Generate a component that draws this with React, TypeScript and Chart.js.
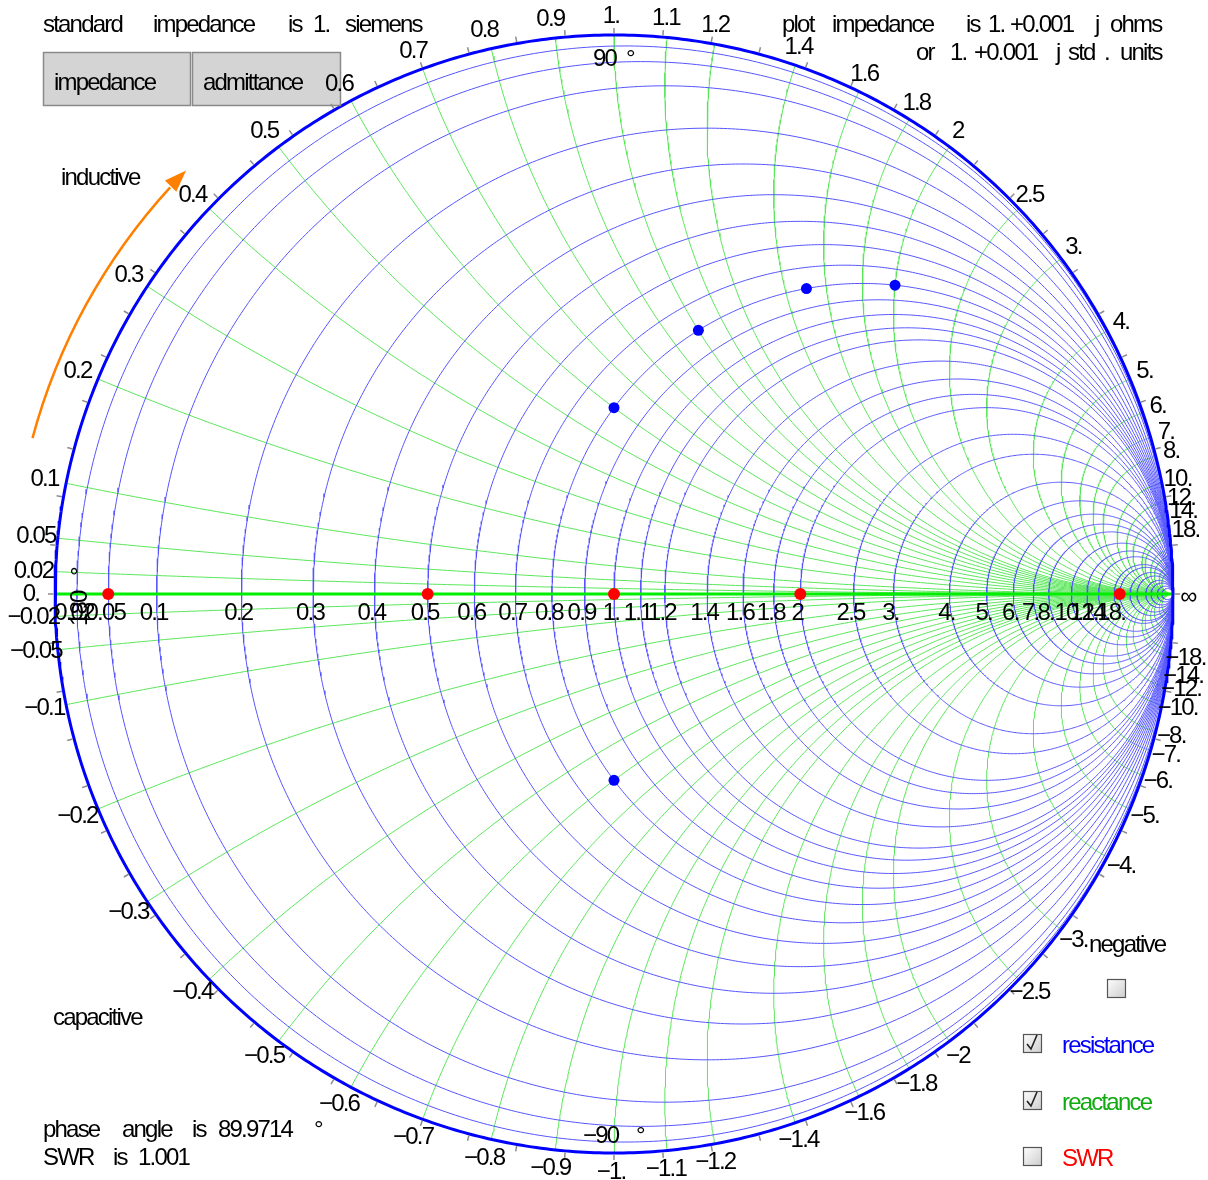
import React, { useEffect, useRef } from 'react';
import { Chart, registerables } from 'chart.js';

Chart.register(...registerables);

// ---------- data ----------
const resistanceValues = [0.02, 0.05, 0.1, 0.2, 0.3, 0.4, 0.5, 0.6, 0.7, 0.8, 0.9, 1, 1.1, 1.2, 1.4, 1.6, 1.8, 2, 2.5, 3, 4, 5, 6, 7, 8, 10, 12, 14, 18];
const extraResistanceValues = [20, 25, 30, 40, 50, 70, 100];
const reactanceValues = [0.02, 0.05, 0.1, 0.2, 0.3, 0.4, 0.5, 0.6, 0.7, 0.8, 0.9, 1, 1.1, 1.2, 1.4, 1.6, 1.8, 2, 2.5, 3, 4, 5, 6, 7, 8, 10, 12, 14, 18];
const extraReactanceValues = [20, 25, 30, 40, 50];
const valueLabels = ['0.02', '0.05', '0.1', '0.2', '0.3', '0.4', '0.5', '0.6', '0.7', '0.8', '0.9', '1.', '1.1', '1.2', '1.4', '1.6', '1.8', '2', '2.5', '3.', '4.', '5.', '6.', '7.', '8.', '10.', '12.', '14.', '18.'];
const redPointR = [0.05, 0.5, 1, 2, 20];
const redPointX = [0, 0, 0, 0, 0];
const bluePointR = [0.8, 0.8, 0.8, 0.8, 0.8];
const bluePointX = [0.6, 1, 1.5, 2, -0.6];
const angleTickStepDeg = 5;

const BLUE_THIN = 'rgb(85,85,255)';
const GREEN_THIN = 'rgb(90,230,90)';

function gamma(r: number, x: number) {
  const d = (r + 1) * (r + 1) + x * x;
  return { x: (r * r + x * x - 1) / d, y: (2 * x) / d };
}

function resistanceCircle(r: number) {
  const c = r / (1 + r);
  const R = 1 / (1 + r);
  const pts: { x: number; y: number }[] = [];
  const n = 720;
  for (let i = 0; i <= n; i++) {
    const t = (2 * Math.PI * i) / n;
    pts.push({ x: c + R * Math.cos(t), y: R * Math.sin(t) });
  }
  return pts;
}

function reactanceArc(x: number) {
  const ax = Math.abs(x);
  const s = Math.sign(x);
  const rho = 1 / ax;
  let a0 = Math.atan2((ax * ax - 1) / ax, -2);
  if (a0 > 0) a0 -= 2 * Math.PI;
  const a1 = -Math.PI / 2;
  const pts: { x: number; y: number }[] = [];
  const n = 240;
  for (let i = 0; i <= n; i++) {
    const a = a0 + ((a1 - a0) * i) / n;
    pts.push({ x: 1 + rho * Math.cos(a), y: s * (1 / ax + rho * Math.sin(a)) });
  }
  return pts;
}

const FONT = '24px "Liberation Sans", Arial, sans-serif';

const textPlugin = {
  id: 'smithText',
  afterDraw(chart: any) {
    const ctx: CanvasRenderingContext2D = chart.ctx;
    const sx = chart.scales.x;
    const sy = chart.scales.y;
    const cx = sx.getPixelForValue(0);
    const cy = sy.getPixelForValue(0);
    const R = sx.getPixelForValue(1) - cx;
    ctx.save();
    (ctx as any).letterSpacing = '-1.8px';
    ctx.font = FONT;

    // buttons (drawn first so the circle labels sit on top)
    const button = (x: number, y: number, w: number, h: number, label: string) => {
      ctx.fillStyle = '#d4d4d4';
      ctx.fillRect(x, y, w, h);
      ctx.strokeStyle = '#8a8a8a';
      ctx.lineWidth = 1.5;
      ctx.strokeRect(x + 0.5, y + 0.5, w - 1, h - 1);
      ctx.fillStyle = '#000';
      ctx.textAlign = 'left';
      ctx.textBaseline = 'alphabetic';
      ctx.fillText(label, x + 11, y + 38);
    };
    button(43, 52, 148, 54, 'impedance');
    button(192, 52, 149, 54, 'admittance');

    // angle ticks
    ctx.strokeStyle = '#8c8c8c';
    ctx.lineWidth = 1.5;
    for (let a = 0; a < 360; a += angleTickStepDeg) {
      const t = (a * Math.PI) / 180;
      ctx.beginPath();
      ctx.moveTo(cx + (R + 1.5) * Math.cos(t), cy - (R + 1.5) * Math.sin(t));
      ctx.lineTo(cx + (R + 7) * Math.cos(t), cy - (R + 7) * Math.sin(t));
      ctx.stroke();
    }

    ctx.fillStyle = '#000';
    ctx.textAlign = 'center';
    ctx.textBaseline = 'middle';
    const LR = R + 19;
    // perimeter labels
    reactanceValues.forEach((x, i) => {
      for (const sgn of [1, -1]) {
        const g = gamma(0, sgn * x);
        const th = Math.atan2(g.y, g.x);
        const tx = cx + LR * Math.cos(th) - 3;
        const ty = cy - LR * Math.sin(th);
        ctx.fillText((sgn < 0 ? '\u2212' : '') + valueLabels[i], tx, ty);
      }
    });
    ctx.fillText('0.', cx - LR - 5, cy);
    ctx.fillText('\u221E', cx + R + 15, cy + 3);

    // horizontal axis labels
    resistanceValues.forEach((r, i) => {
      const g = gamma(r, 0);
      ctx.fillText(valueLabels[i], sx.getPixelForValue(g.x) - 3, cy + 19);
    });

    // rotated 180 degree label
    ctx.save();
    ctx.translate(87, 626);
    ctx.rotate(-Math.PI / 2);
    ctx.textAlign = 'left';
    ctx.textBaseline = 'alphabetic';
    ctx.fillText('180', 0, 0);
    ctx.fillText('\u00B0', 50, 0);
    ctx.restore();

    ctx.textAlign = 'left';
    ctx.textBaseline = 'alphabetic';
    const words = (list: [string, number][], y: number, color = '#000') => {
      ctx.fillStyle = color;
      list.forEach(([w, x]) => ctx.fillText(w, x, y));
    };
    words([['standard', 43], ['impedance', 153], ['is', 288], ['1.', 313], ['siemens', 345]], 32);
    words([['plot', 782], ['impedance', 832], ['is', 966], ['1.', 988], ['+0.001', 1010], ['j', 1095], ['ohms', 1110]], 32);
    words([['or', 916], ['1.', 950], ['+0.001', 974], ['j', 1056], ['std', 1068], ['.', 1104], ['units', 1120]], 60);
    words([['90', 593], ['\u00B0', 626]], 66);
    words([['\u221290', 583], ['\u00B0', 636]], 1143);
    words([['inductive', 61]], 185);
    words([['capacitive', 53]], 1025);
    words([['phase', 43], ['angle', 122], ['is', 192], ['89.9714', 218], ['\u00B0', 314]], 1137);
    words([['SWR', 43], ['is', 113], ['1.001', 138]], 1165);
    words([['negative', 1089]], 952);

    // checkboxes
    const checkbox = (x: number, y: number, checked: boolean) => {
      const g = ctx.createLinearGradient(x, y, x + 18, y + 18);
      g.addColorStop(0, '#ffffff');
      g.addColorStop(1, '#cfcfcf');
      ctx.fillStyle = g;
      ctx.fillRect(x, y, 18, 18);
      ctx.strokeStyle = '#555';
      ctx.lineWidth = 1.2;
      ctx.strokeRect(x + 0.5, y + 0.5, 18, 18);
      if (checked) {
        ctx.strokeStyle = '#222';
        ctx.lineWidth = 1.6;
        ctx.beginPath();
        ctx.moveTo(x + 4, y + 10);
        ctx.lineTo(x + 8, y + 15);
        ctx.lineTo(x + 14, y + 1);
        ctx.stroke();
      }
    };
    checkbox(1107, 979, false);
    checkbox(1023, 1034, true);
    checkbox(1023, 1091, true);
    checkbox(1023, 1147, false);
    words([['resistance', 1062]], 1053, '#0000ff');
    words([['reactance', 1062]], 1110, '#11aa11');
    words([['SWR', 1062]], 1166, '#ff0000');

    // orange arrow (inductive direction)
    const AR = 602;
    const a0 = (-165 * Math.PI) / 180;
    const aTip = (-135.3 * Math.PI) / 180;
    const aEnd = (-137.5 * Math.PI) / 180;
    ctx.strokeStyle = '#ff8000';
    ctx.fillStyle = '#ff8000';
    ctx.lineWidth = 2.5;
    ctx.beginPath();
    ctx.arc(cx, cy, AR, a0, aEnd, false);
    ctx.stroke();
    const tipX = cx + AR * Math.cos(aTip);
    const tipY = cy + AR * Math.sin(aTip);
    const dx = -Math.sin(aTip);
    const dy = Math.cos(aTip);
    const bx = tipX - 22 * dx;
    const by = tipY - 22 * dy;
    ctx.beginPath();
    ctx.moveTo(tipX, tipY);
    ctx.lineTo(bx - 8 * dy, by + 8 * dx);
    ctx.lineTo(bx + 8 * dy, by - 8 * dx);
    ctx.closePath();
    ctx.fill();

    ctx.restore();
  },
};

export default function App() {
  const ref = useRef<HTMLCanvasElement | null>(null);
  useEffect(() => {
    if (!ref.current) return;
    const datasets: any[] = [];
    [...resistanceValues, ...extraResistanceValues].forEach((r) => {
      datasets.push({
        data: resistanceCircle(r),
        showLine: true,
        borderColor: BLUE_THIN,
        borderWidth: 1,
        pointRadius: 0,
        clip: false,
        order: 4,
      });
    });
    [...reactanceValues, ...extraReactanceValues].forEach((x) => {
      for (const s of [1, -1]) {
        datasets.push({
          data: reactanceArc(s * x),
          showLine: true,
          borderColor: GREEN_THIN,
          borderWidth: 1,
          pointRadius: 0,
          clip: false,
          order: 5,
        });
      }
    });
    datasets.push({
      data: [gamma(0, 0), gamma(1e9, 0)],
      showLine: true,
      borderColor: '#00ee00',
      borderWidth: 3,
      pointRadius: 0,
      clip: false,
      order: 3,
    });
    datasets.push({
      data: resistanceCircle(0),
      showLine: true,
      borderColor: '#0000ff',
      borderWidth: 3,
      pointRadius: 0,
      clip: false,
      order: 2,
    });
    datasets.push({
      data: redPointR.map((r, i) => gamma(r, redPointX[i])),
      showLine: false,
      pointRadius: 6,
      pointBackgroundColor: '#ff0000',
      pointBorderWidth: 0,
      borderColor: '#ff0000',
      clip: false,
      order: 1,
    });
    datasets.push({
      data: bluePointR.map((r, i) => gamma(r, bluePointX[i])),
      showLine: false,
      pointRadius: 5.5,
      pointBackgroundColor: '#0000ff',
      pointBorderWidth: 0,
      borderColor: '#0000ff',
      clip: false,
      order: 0,
    });

    const chart = new Chart(ref.current, {
      type: 'scatter',
      data: { datasets },
      options: {
        animation: false,
        responsive: false,
        devicePixelRatio: 1,
        layout: { padding: { left: 55, right: 35, top: 35, bottom: 27 } },
        scales: {
          x: { type: 'linear', min: -1, max: 1, display: false },
          y: { type: 'linear', min: -1, max: 1, display: false },
        },
        plugins: { legend: { display: false }, tooltip: { enabled: false } },
        elements: { line: { tension: 0 } },
      },
      plugins: [textPlugin],
    } as any);
    return () => chart.destroy();
  }, []);
  return (
    <div style={{ position: 'absolute', left: 0, top: 0, width: 1208, height: 1180, background: '#fff' }}>
      <canvas ref={ref} width={1208} height={1180} style={{ display: 'block' }} />
    </div>
  );
}
